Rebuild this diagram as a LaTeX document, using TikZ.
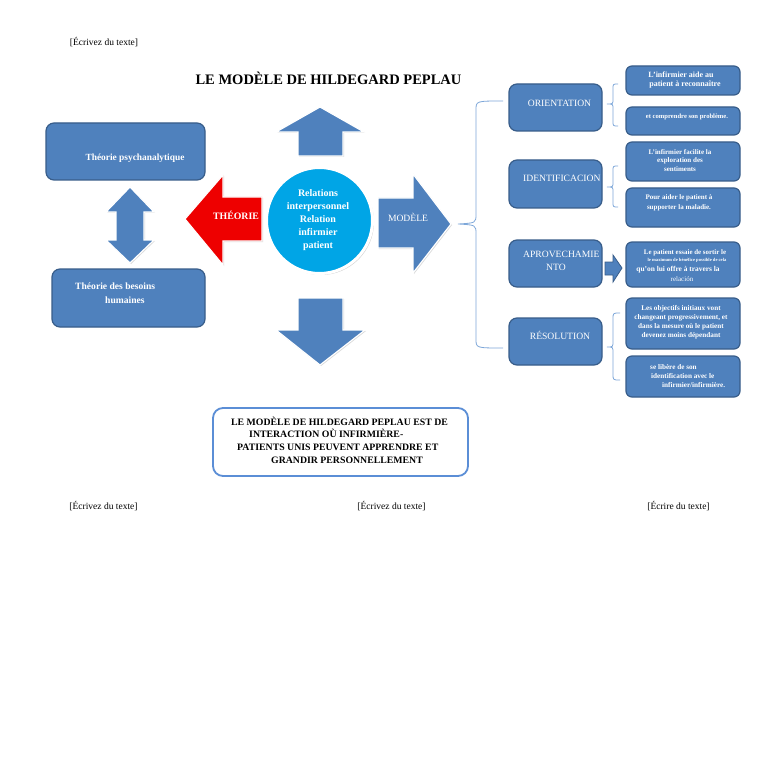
\documentclass[tikz,border=0pt]{standalone}
\usepackage{fontspec}
\setmainfont{Liberation Serif}
\usetikzlibrary{shadows}
\definecolor{bfill}{HTML}{4F81BD}
\definecolor{bdraw}{HTML}{385D8A}
\definecolor{cyanc}{HTML}{00A5E6}
\definecolor{redc}{HTML}{EE0000}
\definecolor{bracec}{HTML}{7DA7D9}
\definecolor{framec}{HTML}{5B8ED6}
\newcommand\myfs[2]{\fontsize{#1}{#2}\selectfont}
\begin{document}
\begin{tikzpicture}[x=1pt,y=-1pt,
  bx/.style={draw=bdraw, fill=bfill, line width=1.2pt, rounded corners=8pt, inner sep=0pt},
  sbx/.style={draw=bdraw, fill=bfill, line width=1.2pt, rounded corners=6pt, inner sep=0pt},
  blk/.style={fill=bfill, draw=white, line width=1.2pt, line join=miter,
     drop shadow={opacity=0.3, shadow xshift=1pt, shadow yshift=-1pt}},
  wt/.style={text=white, inner sep=0pt, align=center},
  hdr/.style={inner sep=0pt, font=\myfs{9.5}{11}},
  brc/.style={draw=bracec, line width=0.8pt},
]
\useasboundingbox (0,0) rectangle (768,762);
\fill[white] (0,0) rectangle (768,762);

% headers / footers
\node[hdr] (h1) at (104,42) {[Écrivez du texte]};
\node[hdr] (f1) at (103.5,506) {[Écrivez du texte]};
\node[hdr] (f2) at (391.5,506) {[Écrivez du texte]};
\node[hdr] (f3) at (678.5,506) {[Écrire du texte]};

% title
\node[inner sep=0pt, font=\bfseries\myfs{14.5}{16}] (title) at (328.5,78) {LE MODÈLE DE HILDEGARD PEPLAU};

% left boxes
\node[bx, minimum width=159pt, minimum height=57pt] (psy) at (125.5,151.5) {};
\node[wt, font=\bfseries\myfs{9.4}{11}] (psyt) at (135,158) {Théorie psychanalytique};
\node[bx, minimum width=153pt, minimum height=58pt] (bes) at (128.5,298) {};
\node[wt, font=\bfseries\myfs{9.6}{11}, anchor=west] (best1) at (75,286) {Théorie des besoins};
\node[wt, font=\bfseries\myfs{9.6}{11}, anchor=west] (best2) at (105,300) {humaines};

% double arrow
\path[blk] (130,187) -- (154,212) -- (144,212) -- (144,240) -- (154,240) -- (130,263)
  -- (106,240) -- (116,240) -- (116,212) -- (106,212) -- cycle;

% up / down arrows
\path[blk] (320,107) -- (364,132) -- (343,132) -- (343,156) -- (298,156) -- (298,132) -- (276,132) -- cycle;
\path[blk] (298,298) -- (343,298) -- (343,330) -- (365,330) -- (320,365) -- (276,330) -- (298,330) -- cycle;

% red arrow
\path[fill=redc, draw=white, line width=1.2pt, drop shadow={opacity=0.3, shadow xshift=1pt, shadow yshift=-1pt}]
  (185,219) -- (223,175) -- (223,197) -- (262,197) -- (262,241) -- (223,241) -- (223,265) -- cycle;
\node[wt, font=\bfseries\myfs{9.8}{11}] (theo) at (236,215) {THÉORIE};

% right arrow
\path[blk] (378,198) -- (413,198) -- (413,174) -- (451,224) -- (413,273) -- (413,248) -- (378,248) -- cycle;
\node[wt, font=\myfs{9.6}{11}] (mod) at (408,217) {MODÈLE};

% circle
\node[circle, fill=cyanc, draw=white, line width=3pt, minimum size=106pt, inner sep=0pt,
  drop shadow={opacity=0.35, shadow xshift=1.5pt, shadow yshift=-1.5pt}] (ctr) at (319.5,220.5) {};
\node[wt, font=\bfseries\myfs{10}{13}] (ctrt) at (318,220) {Relations\\interpersonnel\\Relation\\infirmier\\patient};

% big brace
\draw[brc] (503,101) .. controls (476,101) .. (476,110) -- (476,214)
  .. controls (476,223) .. (458,224) .. controls (476,225) .. (476,234) -- (476,339)
  .. controls (476,348) .. (503,348);

% middle column boxes
\node[bx, minimum width=93pt, minimum height=47pt] (ori) at (555.5,107.5) {};
\node[wt, font=\myfs{9.6}{11}] (orit) at (559.5,103) {ORIENTATION};
\node[bx, minimum width=93pt, minimum height=48pt] (ide) at (555.5,184) {};
\node[wt, font=\myfs{9.6}{11}, anchor=west] (idet) at (523,178) {IDENTIFICACION};
\node[bx, minimum width=93pt, minimum height=47pt] (apr) at (555.5,263.5) {};
\node[wt, font=\myfs{9.6}{11}, anchor=west] (aprt1) at (523,254) {APROVECHAMIE};
\node[wt, font=\myfs{9.6}{11}] (aprt2) at (556,267) {NTO};
\node[bx, minimum width=93pt, minimum height=47pt] (res) at (555.5,341.5) {};
\node[wt, font=\myfs{9.6}{11}] (rest) at (560,335) {RÉSOLUTION};

% small braces
\draw[brc] (618,84) .. controls (613,84) .. (613,89) -- (613,99) .. controls (613,104) .. (607,104)
  .. controls (613,104) .. (613,109) -- (613,121) .. controls (613,126) .. (618,126);
\draw[brc] (618,166) .. controls (613,166) .. (613,171) -- (613,182) .. controls (613,187) .. (607,187)
  .. controls (613,187) .. (613,192) -- (613,202) .. controls (613,207) .. (618,207);
\draw[brc] (620,313) .. controls (613,313) .. (613,319) -- (613,341) .. controls (613,347) .. (607,347)
  .. controls (613,347) .. (613,353) -- (613,374) .. controls (613,380) .. (620,380);

% small arrow
\path[fill=bfill, draw=bdraw, line width=0.8pt] (605,262) -- (613,262) -- (613,255) -- (622,268)
  -- (613,282) -- (613,275) -- (605,275) -- cycle;

% right column boxes
\node[sbx, minimum width=114pt, minimum height=29pt] (r1) at (683,80.5) {};
\node[wt, font=\bfseries\myfs{8}{9}] (r1t) at (681,80.5) {L'infirmier aide au\\\hspace*{8pt}patient à reconnaître};
\node[sbx, minimum width=114pt, minimum height=28pt] (r2) at (683,121) {};
\node[wt, font=\bfseries\myfs{6.6}{8}] (r2t) at (687,117) {et comprendre son problème.};
\node[sbx, minimum width=114pt, minimum height=39pt] (r3) at (683,161.5) {};
\node[wt, font=\bfseries\myfs{7}{8.6}] (r3t) at (680,160.5) {L'infirmier facilite la\\exploration des\\sentiments};
\node[sbx, minimum width=114pt, minimum height=39pt] (r4) at (683,207.5) {};
\node[wt, font=\bfseries\myfs{7}{9.5}] (r4t) at (679,203) {Pour aider le patient à\\supporter la maladie.};
\node[sbx, minimum width=114pt, minimum height=45pt] (r5) at (683,264.5) {};
\node[wt, font=\bfseries\myfs{6.9}{8}] (r5a) at (685,253) {Le patient essaie de sortir le};
\node[wt, font=\bfseries\myfs{4.6}{5}] (r5b) at (687,260) {le maximum de bénéfice possible de cela};
\node[wt, font=\bfseries\myfs{7.4}{8}] (r5c) at (678,270) {qu'on lui offre à travers la};
\node[wt, font=\myfs{7}{8}] (r5d) at (682,279) {relación};
\node[sbx, minimum width=114pt, minimum height=51pt] (r6) at (683,323.5) {};
\node[wt, font=\bfseries\myfs{7.2}{9}] (r6t) at (681,322.5) {Les objectifs initiaux vont\\changeant progressivement, et\\dans la mesure où le patient\\devenez moins dépendant};
\node[sbx, minimum width=114pt, minimum height=41pt] (r7) at (683,376.5) {};
\node[wt, font=\bfseries\myfs{7.2}{9}, anchor=west] (r7a) at (650,367) {se libère de son};
\node[wt, font=\bfseries\myfs{7.2}{9}, anchor=west] (r7b) at (651,376) {identification avec le};
\node[wt, font=\bfseries\myfs{7.2}{9}, anchor=west] (r7c) at (662,385.5) {infirmier/infirmière.};

% bottom box
\node[draw=framec, fill=white, line width=1.8pt, rounded corners=10pt, minimum width=255pt,
  minimum height=68pt, inner sep=0pt] (concl) at (340.5,442) {};
\node[inner sep=0pt, anchor=west, font=\bfseries\myfs{9.8}{11}] (c1) at (231,421) {LE MODÈLE DE HILDEGARD PEPLAU EST DE};
\node[inner sep=0pt, anchor=west, font=\bfseries\myfs{9.8}{11}] (c2) at (249,433.5) {INTERACTION OÙ INFIRMIÈRE-};
\node[inner sep=0pt, anchor=west, font=\bfseries\myfs{9.8}{11}] (c3) at (237,447) {PATIENTS UNIS PEUVENT APPRENDRE ET};
\node[inner sep=0pt, anchor=west, font=\bfseries\myfs{9.8}{11}] (c4) at (271,460) {GRANDIR PERSONNELLEMENT};
\end{tikzpicture}
\end{document}
